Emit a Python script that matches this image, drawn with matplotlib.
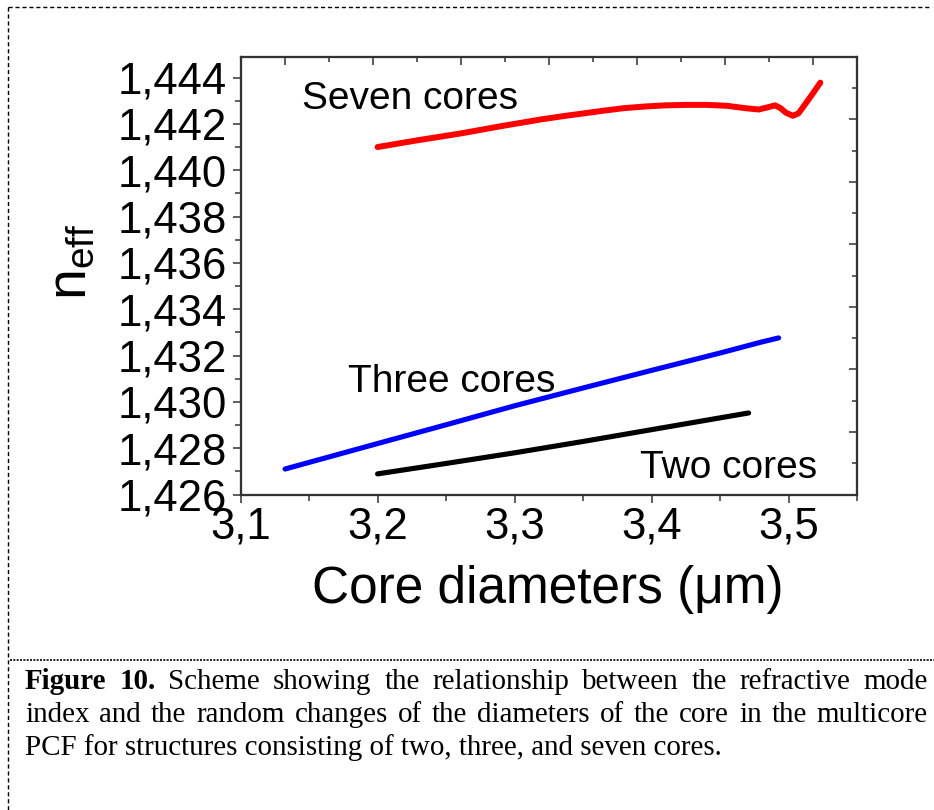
import matplotlib
matplotlib.use("Agg")
import matplotlib.pyplot as plt
from matplotlib.lines import Line2D
from matplotlib.ticker import MultipleLocator, FixedLocator, FuncFormatter

plt.rcParams['font.family'] = ['Liberation Sans', 'DejaVu Sans']
plt.rcParams['mathtext.default'] = 'regular'

# Effective refractive index versus core diameter (um)
seven_x = [3.200, 3.215, 3.230, 3.245, 3.260, 3.275, 3.290, 3.305, 3.320, 3.335,
           3.350, 3.365, 3.380, 3.395, 3.410, 3.425, 3.440, 3.455, 3.468, 3.478,
           3.485, 3.490, 3.494, 3.498, 3.503, 3.507, 3.512, 3.518, 3.523]
seven_y = [1.44100, 1.44115, 1.44130, 1.44144, 1.44158, 1.44174, 1.44190, 1.44205,
           1.44220, 1.44233, 1.44245, 1.44257, 1.44268, 1.44275, 1.44280, 1.44282,
           1.44282, 1.44278, 1.44268, 1.44262, 1.44272, 1.44280, 1.44268, 1.44248,
           1.44235, 1.44245, 1.44285, 1.44335, 1.44378]

three_x = [3.1325, 3.200, 3.250, 3.300, 3.350, 3.400, 3.450, 3.480, 3.4926]
three_y = [1.42710, 1.42820, 1.42901, 1.42983, 1.43060, 1.43136, 1.43211,
           1.43258, 1.43276]

two_x = [3.200, 3.250, 3.300, 3.350, 3.400, 3.450, 3.4707]
two_y = [1.42689, 1.42734, 1.42780, 1.42829, 1.42880, 1.42931, 1.42952]

series_labels = ["Seven cores", "Three cores", "Two cores"]
label_pos = [(3.145, 1.44308), (3.1785, 1.43087), (3.3916, 1.42715)]

x_range = (3.1, 3.55)
y_range = (1.426, 1.4449)

caption_lines = [
    [("Figure", "bold"), ("10.", "bold"), ("Scheme", "normal"), ("showing", "normal"),
     ("the", "normal"), ("relationship", "normal"), ("between", "normal"),
     ("the", "normal"), ("refractive", "normal"), ("mode", "normal")],
    [(w, "normal") for w in "index and the random changes of the diameters of the core in the multicore".split()],
]
caption_last = "PCF for structures consisting of two, three, and seven cores."

W, H = 934, 810
fig = plt.figure(figsize=(W / 100, H / 100), dpi=100)
fig.patch.set_facecolor("white")

ax = fig.add_axes([240.5 / W, 1 - 494.5 / H, 616.8 / W, 437.8 / H])
ax.plot(seven_x, seven_y, color="#ff0000", lw=4.3, solid_capstyle="round",
        solid_joinstyle="round")
ax.plot(three_x, three_y, color="#0000ff", lw=3.7, solid_capstyle="round",
        solid_joinstyle="round")
ax.plot(two_x, two_y, color="#000000", lw=3.7, solid_capstyle="round",
        solid_joinstyle="round")

for txt, (lx, ly) in zip(series_labels, label_pos):
    ax.text(lx, ly, txt, fontsize=28, ha="left", va="center", color="black")

ax.set_xlim(*x_range)
ax.set_ylim(*y_range)
ax.xaxis.set_major_locator(MultipleLocator(0.1))
ax.xaxis.set_minor_locator(MultipleLocator(0.05))
ax.yaxis.set_major_locator(MultipleLocator(0.002))
ax.yaxis.set_minor_locator(MultipleLocator(0.001))
ax.xaxis.set_major_formatter(FuncFormatter(lambda v, p: f"{v:.1f}".replace(".", ",")))
ax.yaxis.set_major_formatter(FuncFormatter(lambda v, p: f"{v:.3f}".replace(".", ",")))

spine_c = "#333333"
for s in ax.spines.values():
    s.set_color(spine_c)
    s.set_linewidth(1.5)
ax.tick_params(which="both", direction="out", color=spine_c, width=1.1,
               top=False, right=False, labelsize=31.5, pad=3)
ax.tick_params(axis="y", pad=4)
ax.tick_params(which="major", length=6)
ax.tick_params(which="minor", length=4)

# Independent tick rows along the top and right frame
ax_t = ax.twiny()
ax_t.set_xlim(0, 14)
ax_t.xaxis.set_major_locator(FixedLocator([1, 3, 5, 7, 9, 11, 13]))
ax_t.xaxis.set_minor_locator(FixedLocator([2, 4, 6, 8, 10, 12]))
ax_t.tick_params(axis="x", which="both", direction="in", color=spine_c, width=1.1,
                 labeltop=False, labelbottom=False, top=True, bottom=False)
ax_t.tick_params(axis="x", which="major", length=5.5)
ax_t.tick_params(axis="x", which="minor", length=3.5)
ax_t.tick_params(axis="y", which="both", left=False, right=False,
                 labelleft=False, labelright=False)

ax_r = ax.twinx()
ax_r.set_ylim(0, 14)
ax_r.yaxis.set_major_locator(FixedLocator([2, 4, 6, 8, 10, 12]))
ax_r.yaxis.set_minor_locator(FixedLocator([1, 3, 5, 7, 9, 11, 13]))
ax_r.tick_params(axis="y", which="both", direction="in", color=spine_c, width=1.1,
                 labelright=False, labelleft=False, right=True, left=False)
ax_r.tick_params(axis="y", which="major", length=6)
ax_r.tick_params(axis="y", which="minor", length=3.5)
for a in (ax_t, ax_r):
    for s in a.spines.values():
        s.set_color(spine_c)
        s.set_linewidth(1.5)

ax.set_xlabel("Core diameters (\u03bcm)", fontsize=37, va="center")
ax.xaxis.set_label_coords((548 - 240.5) / 616.8, (494.5 - 590) / 437.8)
ax.set_ylabel(r"$n_{eff}$", fontsize=40, rotation=90, va="center", ha="center")
ax.yaxis.set_label_coords((72 - 240.5) / 616.8, (494.5 - 262) / 437.8)

# Frame around the figure and caption
dash = dict(color="black", lw=1.0, linestyle=(0, (3, 2)), transform=fig.transFigure)
fig.add_artist(Line2D([8 / W, 930 / W], [1 - 7 / H, 1 - 7 / H], **dash))
fig.add_artist(Line2D([8 / W, 8 / W], [1 - 7 / H, 0], **dash))
fig.add_artist(Line2D([10 / W, 1.0], [1 - 660 / H, 1 - 660 / H], color="black",
                      lw=1.2, linestyle=(0, (1.2, 0.8)), transform=fig.transFigure))

# Caption: two justified lines, then a plain last line
renderer = fig.canvas.get_renderer()
cap_font = dict(family=["Liberation Serif", "DejaVu Serif"], fontsize=20.9)
x_left, x_right = 25, 928
baselines = [689, 722, 755]
for words, base in zip(caption_lines, baselines[:2]):
    texts = [fig.text(0, 1 - base / H, w, weight=wt, va="baseline", ha="left", **cap_font)
             for w, wt in words]
    widths = [t.get_window_extent(renderer).width for t in texts]
    gap = (x_right - x_left - sum(widths)) / (len(texts) - 1)
    x = x_left
    for t, wd in zip(texts, widths):
        t.set_x(x / W)
        x += wd + gap
fig.text(x_left / W, 1 - baselines[2] / H, caption_last, va="baseline", ha="left",
         **cap_font)

fig.savefig("out.png", dpi=100, facecolor="white")
